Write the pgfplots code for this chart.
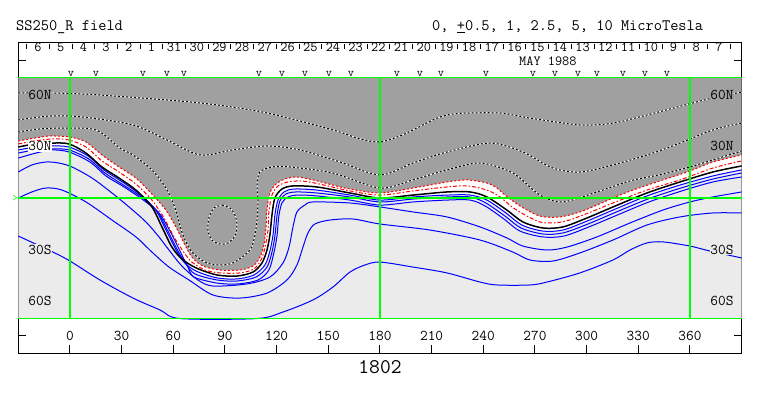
\documentclass[border=0pt]{standalone}
\usepackage{pgfplots}
\pgfplotsset{compat=1.18}
\usepackage{pgfplotstable}
\usepgfplotslibrary{fillbetween}
\usepackage{fontspec}
\definecolor{dgrey}{HTML}{A0A0A0}
\definecolor{lgrey}{HTML}{EBEBEB}
\definecolor{ggreen}{HTML}{00FF00}
\definecolor{bblue}{HTML}{0000FF}
\definecolor{rred}{HTML}{FF0000}
\newcommand{\lab}{\ttfamily\fontsize{15}{15}\selectfont}

% outer red dotted line (edge of dark region)
\pgfplotstableread{
x y
-30 33.1
-20.3 34.8
-11.6 36.0
0 35.4
9.3 32.5
18.6 25.0
28.5 18.0
38.3 11.6
47.6 2.3
55.7 -7.0
61.5 -16.8
66.2 -26.1
70.8 -34.3
77.2 -39.5
87.1 -41.8
98.7 -41.8
106.3 -39.5
110.3 -34.3
112.6 -27.3
113.8 -17.4
114.4 -7.0
116.1 2.9
119.6 8.1
124.8 11.0
131.8 12.2
141.1 10.5
152.7 7.5
162.6 5.2
180 2.9
199.2 5.8
218.9 9.3
230.5 10.5
242.1 8.7
247.9 5.8
252.6 1.7
261.3 -4.6
272.9 -10.5
284.5 -11.0
296.1 -8.1
306.0 -4.1
315.3 0
326.9 4.6
344.3 10.5
360 15.7
373.3 20.9
390 25.0
}\Bzero
% red dash-dot line
\pgfplotstableread{
x y
-30 31.4
-20.3 33.1
-10.5 34.3
-0.6 33.7
9.3 29.6
18.6 21.5
28.5 15.1
38.3 8.1
47.6 -1.2
54.6 -11.6
60.4 -22.6
65.6 -30.8
70.8 -37.2
78.4 -41.8
87.1 -43.5
98.7 -43.5
106.8 -41.2
110.9 -36.0
113.2 -29.0
115.0 -18.6
115.5 -8.1
117.3 1.7
120.8 7.0
126.6 9.3
133.5 9.9
142.2 8.7
162.6 4.1
180 1.7
199.2 4.1
218.9 6.4
231.1 7.0
242.1 4.6
249.7 0.6
258.4 -6.4
272.9 -13.9
285.7 -13.9
297.9 -9.9
315.3 -2.9
335.0 4.6
354.2 10.5
373.3 17.4
390 21.5
}\Rone
% neutral line (black)
\pgfplotstableread{
x y
-30 29.6
-20.3 31.4
-10.5 31.9
-0.6 31.4
9.3 26.1
18.6 18.0
28.5 11.6
38.3 4.6
47.6 -5.2
53.4 -16.8
59.2 -28.5
65.0 -35.4
73.2 -40.6
85.4 -44.7
97.0 -45.3
106.3 -43.0
111.5 -37.7
114.4 -30.2
116.1 -21.5
117.3 -9.9
119.0 0
123.1 5.2
129.5 7.0
143.4 6.4
162.6 2.9
180 0
199.2 1.7
218.9 3.5
232.3 3.5
242.1 0.6
253.7 -7.0
263.0 -13.9
274.6 -17.4
286.2 -16.8
300.2 -11.6
315.3 -5.2
335.0 2.9
354.2 9.3
373.3 15.1
390 18.6
}\Lzero
% blue lines
\pgfplotstableread{
x y
-30 27.9
-20.3 29.6
-10.5 30.2
-0.6 29.6
10.5 24.4
19.7 16.3
29.6 9.9
39.5 2.9
49.4 -6.4
55.2 -17.4
61.0 -29.0
66.2 -37.2
73.2 -42.4
85.4 -46.4
97.0 -47.0
106.8 -44.7
113.2 -38.9
116.1 -30.8
117.9 -21.5
119.0 -9.9
120.8 -1.2
124.3 3.5
130.1 5.2
143.4 4.6
162.6 1.7
180 -1.2
199.2 0.6
218.9 1.7
232.3 1.7
242.1 -1.2
253.2 -8.7
262.4 -15.7
274.6 -19.2
286.2 -18.6
300.2 -13.4
315.3 -7.0
335.0 1.2
354.2 7.5
373.3 12.8
390 16.3
}\Ba
\pgfplotstableread{
x y
-30 26.1
-20.3 27.9
-10.5 28.5
-0.6 27.9
11.0 22.6
20.3 14.5
30.2 8.1
40.6 1.2
50.5 -7.5
56.3 -18.0
62.1 -29.6
67.4 -38.3
72.6 -44.1
85.4 -47.6
97.0 -48.2
108.0 -45.9
114.4 -40.1
117.3 -31.4
119.0 -22.1
120.2 -10.5
121.9 -1.7
125.4 2.3
131.2 3.5
143.4 2.9
162.6 0.6
180 -2.3
199.2 -0.6
218.9 0.6
232.3 0.6
241.5 -2.9
252.6 -10.5
261.9 -17.4
274.6 -20.9
286.2 -20.3
300.8 -15.1
315.9 -8.7
335.6 -0.6
354.8 5.8
373.3 11.0
390 14.5
}\Bb
\pgfplotstableread{
x y
-30 23.2
-19.7 26.1
-10.5 27.9
-0.6 26.7
11.6 20.9
20.9 12.8
31.4 6.4
41.8 -0.6
51.7 -8.7
58.1 -19.2
63.9 -30.8
68.5 -40.1
72.0 -45.9
85.4 -49.4
97.5 -49.9
109.2 -47.6
115.5 -41.8
118.4 -31.9
120.2 -22.1
121.3 -10.5
123.1 -2.9
126.6 0.6
132.4 1.7
143.4 1.2
162.6 -1.2
180 -4.1
199.2 -2.3
218.9 -1.2
232.3 -1.2
241.0 -4.6
252.0 -12.2
261.3 -19.2
274.6 -22.6
286.8 -22.1
301.3 -16.8
316.4 -10.5
336.2 -2.3
355.3 4.1
373.3 9.3
390 12.2
}\Bc
\pgfplotstableread{
x y
-30 15.1
-22.1 19.2
-13.9 20.9
-6.4 20.3
1.2 18.0
12.8 11.6
24.4 2.9
34.3 -5.2
44.1 -13.9
51.7 -22.6
57.5 -30.2
65.0 -39.5
74.3 -47.6
83.0 -51.1
102.8 -49.9
116.1 -45.9
123.7 -37.7
127.2 -28.5
129.5 -16.8
131.8 -8.1
136.4 -4.1
141.1 -2.3
162.6 -2.9
180 -5.2
199.2 -8.1
218.9 -11.0
238.1 -16.8
253.7 -23.2
263.0 -27.9
277.0 -30.2
288.6 -28.5
306.0 -22.6
325.2 -14.5
344.3 -7.0
360 -2.3
373.3 0.6
390 3.5
}\Bd
\pgfplotstableread{
x y
-30 0
-22.1 3.5
-13.9 5.8
-4.6 4.6
9.3 -2.3
24.4 -12.8
38.3 -22.6
47.6 -31.4
57.5 -40.1
69.1 -47.6
83.0 -56.3
98.7 -58.1
114.4 -55.2
126.0 -47.6
131.8 -38.9
135.3 -28.5
138.2 -20.3
142.2 -15.1
151.0 -12.8
164.3 -12.2
180 -15.1
209.0 -18.6
238.1 -24.4
257.2 -31.4
267.1 -36.0
280.4 -36.6
296.1 -31.9
315.3 -24.4
335.0 -15.7
354.2 -11.0
373.3 -8.7
390 -8.7
}\Be
\pgfplotstableread{
x y
-30 -22.1
-9.9 -31.4
0 -36.6
17.4 -47.6
36.6 -58.1
52.3 -65.0
63.9 -70
108.6 -70
123.7 -66.2
141.1 -59.2
152.7 -51.7
162.6 -43.0
171.3 -38.9
180 -37.2
199.2 -40.1
218.9 -43.5
238.1 -48.8
247.9 -50.5
267.1 -50.5
277.0 -48.8
296.1 -43.5
315.3 -36.0
325.2 -30.2
335.0 -26.1
344.3 -25.5
360 -27.9
371.6 -30.8
390 -34.8
}\Bf
% negative (dotted) contours
\pgfplotstableread{
x y
-30 61.0
-10.5 61.0
17.4 59.8
75.5 55.2
114.4 49.4
152.7 39.5
168.4 34.3
180 32.5
191.6 36.0
199.2 39.5
218.9 48.2
247.9 49.4
267.1 46.4
296.1 42.4
315.3 43.5
335.0 48.2
359.4 54.6
373.3 58.1
390 61.5
}\Na
\pgfplotstableread{
x y
-30 45.3
-11.6 47.6
7.5 47.0
36.6 42.4
56.3 33.7
75.5 25.0
94.6 27.9
114.4 30.2
133.5 27.9
156.8 20.9
180 13.4
199.2 20.3
218.9 26.7
243.9 31.9
263.0 26.7
280.4 17.4
296.1 15.1
315.3 19.2
338.5 26.1
354.2 31.9
373.3 39.5
390 43.5
}\Nb
\pgfplotstableread{
x y
-30 38.3
-17.4 40.1
-4.1 40.6
15.1 39.5
29.0 29.0
36.6 25.0
47.6 16.3
55.7 5.8
61.0 -5.8
65.6 -21.5
70.8 -31.4
78.4 -37.2
85.4 -38.9
94.6 -37.7
104.5 -30.2
107.4 -21.5
108.6 -12.8
109.2 -1.2
108.6 7.5
110.3 15.1
117.3 18.0
127.7 18.0
152.7 14.5
180 5.8
199.2 10.5
218.9 16.3
238.1 20.3
257.2 14.5
272.9 1.7
286.2 -2.3
306.0 3.5
325.2 9.9
344.3 13.9
360 18.0
373.3 22.1
390 27.3
}\Nc
\pgfplotstableread{
x y
88.3 -4.1
92.9 -5.8
95.8 -9.9
97.0 -15.7
95.8 -22.1
91.7 -26.1
87.1 -26.7
82.4 -24.4
80.1 -18.6
80.7 -11.6
83.6 -5.8
88.3 -4.1
}\Nell
% day labels and separators
\pgfplotstableread{
x y d
-18.6 87.4 6
-5.4 87.4 5
7.8 87.4 4
20.9 87.4 3
34.1 87.4 2
47.3 87.4 1
60.5 87.4 31
73.7 87.4 30
86.8 87.4 29
100.0 87.4 28
113.2 87.4 27
126.4 87.4 26
139.6 87.4 25
152.7 87.4 24
165.9 87.4 23
179.1 87.4 22
192.3 87.4 21
205.5 87.4 20
218.6 87.4 19
231.8 87.4 18
245.0 87.4 17
258.2 87.4 16
271.4 87.4 15
284.5 87.4 14
297.7 87.4 13
310.9 87.4 12
324.1 87.4 11
337.3 87.4 10
350.4 87.4 9
363.6 87.4 8
376.8 87.4 7
}\Days
\pgfplotstableread{
x y u v
-25.2 89.5 0 -3
-12.0 89.5 0 -3
1.2 89.5 0 -3
14.4 89.5 0 -3
27.5 89.5 0 -3
40.7 89.5 0 -3
53.9 89.5 0 -3
67.1 89.5 0 -3
80.2 89.5 0 -3
93.4 89.5 0 -3
106.6 89.5 0 -3
119.8 89.5 0 -3
133.0 89.5 0 -3
146.1 89.5 0 -3
159.3 89.5 0 -3
172.5 89.5 0 -3
185.7 89.5 0 -3
198.9 89.5 0 -3
212.0 89.5 0 -3
225.2 89.5 0 -3
238.4 89.5 0 -3
251.6 89.5 0 -3
264.8 89.5 0 -3
277.9 89.5 0 -3
291.1 89.5 0 -3
304.3 89.5 0 -3
317.5 89.5 0 -3
330.7 89.5 0 -3
343.8 89.5 0 -3
357.0 89.5 0 -3
370.2 89.5 0 -3
383.4 89.5 0 -3
}\Seps
\pgfplotstableread{
x y
0.6 71.8
15.1 71.8
42.4 71.8
56.3 71.8
66.2 71.8
109.8 71.8
123.1 71.8
136.4 71.8
150.4 71.8
163.2 71.8
189.9 71.8
203.2 71.8
215.4 71.8
241.5 71.8
268.8 71.8
281.6 71.8
295.0 71.8
306.0 71.8
321.1 71.8
333.9 71.8
346.6 71.8
}\Obs

\begin{document}
\begin{tikzpicture}
\begin{axis}[
  set layers=standard,
  at={(0,0)}, anchor=south west,
  scale only axis, width=723.3bp, height=310bp,
  xmin=-30, xmax=390, ymin=-90, ymax=90,
  clip=false,
  axis line style={line width=1bp, black},
  every tick/.style={black, line width=1bp},
  tick align=inside,
  major tick length=8bp,
  xtick={0,30,...,360},
  xtick pos=bottom,
  xticklabels={0,30,60,90,120,150,180,210,240,270,300,330,360},
  xticklabel style={font=\lab, anchor=center, yshift=17bp},
  ytick={-80,-70,...,80},
  yticklabels={},
  ]
% fills
\addplot[name path=top, draw=none] coordinates {(-30,70) (390,70)};
\addplot[name path=bot, draw=none] coordinates {(-30,-70) (390,-70)};
\addplot[name path=Bz, draw=none, smooth] table {\Bzero};
\addplot[name path=Aa, draw=none, smooth] table {\Ba};
\addplot[fill=lgrey, draw=none, on layer=axis background] fill between[of=Aa and bot];
\addplot[fill=white, draw=none, on layer=axis background] fill between[of=Bz and Aa];
\addplot[fill=dgrey, draw=none, on layer=axis background] fill between[of=top and Bz];
% negative contours (dotted)
\addplot[white, line width=1bp, smooth] table {\Na};
\addplot[black, line width=1bp, smooth, dash pattern=on 2bp off 2bp] table {\Na};
\addplot[white, line width=1bp, smooth] table {\Nb};
\addplot[black, line width=1bp, smooth, dash pattern=on 2bp off 2bp] table {\Nb};
\addplot[white, line width=1bp, smooth] table {\Nc};
\addplot[black, line width=1bp, smooth, dash pattern=on 2bp off 2bp] table {\Nc};
\addplot[white, line width=1bp, smooth] table {\Nell};
\addplot[black, line width=1bp, smooth, dash pattern=on 2bp off 2bp] table {\Nell};
% positive contours
\addplot[bblue, line width=1bp, smooth] table {\Bf};
\addplot[bblue, line width=1bp, smooth] table {\Be};
\addplot[bblue, line width=1bp, smooth] table {\Bd};
\addplot[bblue, line width=1bp, smooth] table {\Bc};
\addplot[bblue, line width=1bp, smooth] table {\Bb};
\addplot[bblue, line width=1bp, smooth] table {\Ba};
% neutral region
\addplot[black, line width=1.5bp, smooth] table {\Lzero};
\addplot[rred, line width=1bp, smooth, dash pattern=on 4bp off 2bp on 1.5bp off 2bp] table {\Rone};
\addplot[rred, line width=1bp, smooth, dash pattern=on 2bp off 2bp] table {\Bzero};
% green grid
\addplot[ggreen, line width=1.2bp, on layer=axis foreground] coordinates {(-30,70) (390,70)};
\addplot[ggreen, line width=1.2bp, on layer=axis foreground] coordinates {(-30,0) (390,0)};
\addplot[ggreen, line width=1.2bp, on layer=axis foreground] coordinates {(-30,-70) (390,-70)};
\addplot[ggreen, line width=1.2bp, on layer=axis foreground] coordinates {(0,-70) (0,70)};
\addplot[ggreen, line width=1.2bp, on layer=axis foreground] coordinates {(180,-70) (180,70)};
\addplot[ggreen, line width=1.2bp, on layer=axis foreground] coordinates {(360,-70) (360,70)};
% top date row
\addplot[black, line width=1bp, quiver={u=\thisrow{u}, v=\thisrow{v}}] table {\Seps};
\addplot[draw=none, nodes near coords, point meta=explicit symbolic,
  every node near coord/.style={anchor=center, font=\ttfamily\fontsize{14}{14}\selectfont, inner sep=0pt}]
  table[meta=d] {\Days};
\addplot[draw=none, nodes near coords={v},
  every node near coord/.style={anchor=center, font=\ttfamily\fontsize{12}{12}\selectfont, inner sep=0pt}]
  table {\Obs};
\node[font=\ttfamily\fontsize{14}{14}\selectfont, inner sep=0pt] at (axis cs:277.5,79.3) {MAY 1988};
% latitude labels
\node[font=\lab, fill=dgrey, inner sep=0.5bp] at (axis cs:-17.4,60) {60N};
\node[font=\lab, fill=white, inner sep=0.5bp] at (axis cs:-17.4,30) {30N};
\node[font=\lab, fill=lgrey, inner sep=0.5bp] at (axis cs:-17.4,-30) {30S};
\node[font=\lab, fill=lgrey, inner sep=0.5bp] at (axis cs:-17.4,-60) {60S};
\node[font=\lab, fill=dgrey, inner sep=0.5bp] at (axis cs:378.6,60) {60N};
\node[font=\lab, fill=dgrey, inner sep=0.5bp] at (axis cs:378.6,30) {30N};
\node[font=\lab, fill=lgrey, inner sep=0.5bp] at (axis cs:378.6,-30) {30S};
\node[font=\lab, fill=lgrey, inner sep=0.5bp] at (axis cs:378.6,-60) {60S};
\node[font=\ttfamily\fontsize{11}{11}\selectfont, text=ggreen, anchor=east, inner sep=0pt] at (axis cs:-30,0) {>};
\end{axis}
\node[anchor=west, font=\ttfamily\fontsize{16}{16}\selectfont, inner sep=0pt] at (-2.3bp,326bp) {SS250\_R field};
\node[anchor=west, font=\ttfamily\fontsize{16}{16}\selectfont, inner sep=0pt] at (413.7bp,326bp) {0, \underline{+}0.5, 1, 2.5, 5, 10 MicroTesla};
\node[font=\ttfamily\fontsize{21}{21}\selectfont, inner sep=0pt] at (361.7bp,-14bp) {1802};
\path (-18.3bp,-43bp) rectangle (744.7bp,353bp);
\end{tikzpicture}
\end{document}
